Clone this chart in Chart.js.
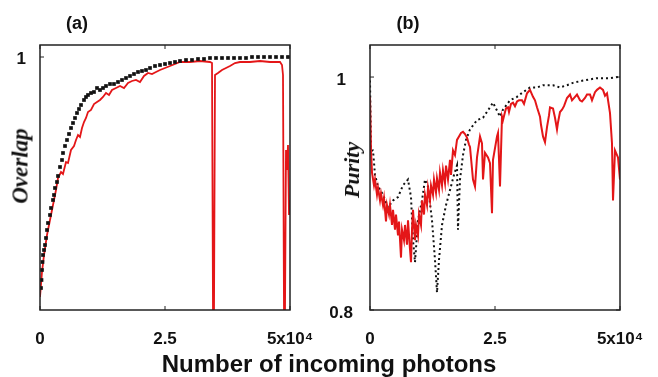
<!DOCTYPE html>
<html>
<head>
<meta charset="utf-8">
<script src="https://cdn.jsdelivr.net/npm/chart.js@4.4.1/dist/chart.umd.min.js"></script>
<style>
  body { margin: 0; width: 658px; height: 377px; background: #fff; overflow: hidden; position: relative;
         font-family: "Liberation Sans", Arial, sans-serif; }
  .box { position: absolute; top: 0; height: 377px; }
  .lbl { position: absolute; font-weight: bold; color: #111; white-space: nowrap; line-height: 1; }
  .ylab { font-family: "Liberation Serif", "Times New Roman", serif; font-style: italic;
          transform: translate(-50%, -50%) rotate(-90deg); }
</style>
</head>
<body>
<div class="box" style="left:0;width:330px"><canvas id="chartA" width="330" height="377"></canvas></div>
<div class="box" style="left:330px;width:328px"><canvas id="chartB" width="328" height="377"></canvas></div>

<div class="lbl" style="left:77px;top:23px;font-size:18px;transform:translate(-50%,-50%)">(a)</div>
<div class="lbl" style="left:408px;top:23px;font-size:18px;transform:translate(-50%,-50%)">(b)</div>
<div class="lbl ylab" style="left:20px;top:166px;font-size:23px">Overlap</div>
<div class="lbl ylab" style="left:352px;top:170px;font-size:22px">Purity</div>
<div class="lbl" style="left:329px;top:352px;font-size:24px;line-height:23px;transform:translateX(-50%)">Number of incoming photons</div>

<script>
// x axis: number of incoming photons
const xTickValues = [0, 25000, 50000];
const xTickLabels = ['0', '2.5', '5x10\u2074'];

// (a) overlap, black markers
const photonsOverlapBlack = [200,300,400,500,600,800,1000,1200,1400,1600,2000,2200,2600,2800,3000,3400,3600,4000,4400,4600,
  5000,5400,5800,6200,6600,7000,7400,7800,8200,8800,9200,9600,10200,10800,11400,12000,12600,13200,14000,14800,
  15600,16400,17200,18000,18800,19600,20400,21200,22000,23000,24000,25000,26000,27000,28000,29200,30400,31600,32800,34000,
  35200,36400,37600,38800,40000,41200,42400,43600,44800,46000,47200,48400,49600];
const overlapBlack = [0.538,0.554,0.574,0.590,0.604,0.614,0.624,0.638,0.654,0.668,0.684,0.698,0.714,0.724,0.738,0.750,0.762,0.780,0.794,0.808,
  0.822,0.834,0.846,0.858,0.868,0.878,0.888,0.896,0.904,0.914,0.920,0.924,0.928,0.930,0.938,0.934,0.938,0.942,0.946,0.946,
  0.950,0.954,0.958,0.962,0.966,0.970,0.972,0.974,0.978,0.982,0.984,0.986,0.988,0.990,0.992,0.994,0.994,0.996,0.996,0.998,
  0.998,0.998,0.998,0.998,0.998,0.998,1.000,1.000,1.000,1.000,1.000,1.000,1.000];

// (a) overlap, red line
const photonsOverlapRed = [0,400,800,1400,2000,2600,3200,3600,4200,4600,5200,5600,6200,6800,7200,7600,8000,8400,8800,9200,
  9600,10200,10800,11400,12000,12600,13200,13800,14400,15200,16000,16800,17600,18400,19200,20000,20800,21600,22400,23200,
  24000,25000,26000,27000,28000,30000,32000,34000,34400,34600,34800,35000,35600,36400,37200,38000,39000,40000,42000,44000,
  46000,48000,48400,48600,48800,49000,49200,49400,49600,49800,50000];
const overlapRed = [0.520,0.570,0.604,0.644,0.674,0.704,0.734,0.758,0.770,0.766,0.790,0.788,0.814,0.822,0.834,0.844,0.840,0.858,0.870,0.878,
  0.890,0.894,0.906,0.910,0.914,0.920,0.928,0.924,0.934,0.938,0.942,0.938,0.948,0.952,0.954,0.950,0.962,0.968,0.966,0.970,
  0.974,0.978,0.982,0.986,0.990,0.990,0.992,0.990,0.988,0.494,0.494,0.964,0.968,0.974,0.978,0.982,0.988,0.990,0.990,0.992,
  0.990,0.990,0.984,0.964,0.494,0.494,0.814,0.774,0.824,0.684,0.714];

// (b) purity, black dotted
const photonsPurityBlack = [0,200,600,1000,1600,2600,3600,4600,5600,6600,7600,8200,8600,9000,9600,10400,11000,11600,12400,13000,
  13400,13800,14400,15200,16000,16800,17400,17600,18000,18600,19200,20000,21400,22600,24000,24600,26000,26600,28000,29400,
  30600,32000,33400,34600,36600,38000,39400,40600,42600,45400,48000,49600];
const purityBlack = [0.997,0.937,0.937,0.916,0.906,0.899,0.888,0.894,0.897,0.907,0.912,0.897,0.860,0.841,0.877,0.894,0.912,0.906,0.877,0.843,
  0.815,0.843,0.873,0.890,0.903,0.916,0.924,0.869,0.912,0.933,0.946,0.955,0.963,0.965,0.974,0.978,0.966,0.972,0.980,0.983,
  0.987,0.991,0.991,0.993,0.993,0.991,0.993,0.995,0.997,0.999,0.999,1.000];

// (b) purity, red line
const photonsPurityRed = [0,200,400,800,1000,1400,1600,2000,2200,2600,2800,3200,3400,3800,4000,4400,4600,5000,5200,5600,
  5800,6200,6400,6800,7000,7400,7600,8000,8200,8400,8600,9000,9200,9600,9800,10200,10400,10800,11000,11400,
  11600,12000,12200,12600,12800,13200,13400,13800,14000,14400,14600,15000,15200,15600,16000,16200,16600,17000,17400,17800,
  18200,18600,19000,19400,19800,20000,20600,21000,21400,22000,22400,22600,23000,23600,24000,24400,24600,25400,25600,26000,
  26400,26600,27000,27200,27600,27800,28200,28600,29000,29400,29800,30400,30800,31400,32000,32600,33000,33400,34000,34200,
  34600,35000,35400,35800,36000,36600,37000,37400,37600,38000,38400,38800,39400,40000,40400,41000,41400,42000,42400,43000,
  43400,44000,44400,45000,45400,46000,46600,47000,47400,48000,48400,48600,49000,49600,50000];
const purityRed = [0.983,0.937,0.918,0.907,0.912,0.899,0.905,0.894,0.900,0.890,0.896,0.876,0.890,0.882,0.890,0.873,0.886,0.869,0.882,0.864,
  0.876,0.845,0.869,0.860,0.873,0.856,0.877,0.852,0.841,0.869,0.886,0.860,0.873,0.864,0.882,0.873,0.894,0.882,0.899,0.890,
  0.905,0.894,0.907,0.899,0.912,0.901,0.913,0.903,0.918,0.907,0.920,0.909,0.924,0.912,0.929,0.916,0.937,0.933,0.946,0.949,
  0.952,0.953,0.951,0.948,0.942,0.940,0.912,0.906,0.931,0.949,0.943,0.912,0.935,0.931,0.926,0.883,0.929,0.949,0.952,0.906,
  0.966,0.963,0.970,0.973,0.974,0.970,0.977,0.978,0.975,0.979,0.980,0.980,0.977,0.986,0.989,0.983,0.980,0.974,0.966,0.959,
  0.949,0.944,0.957,0.967,0.974,0.973,0.965,0.955,0.961,0.970,0.972,0.975,0.982,0.985,0.980,0.983,0.985,0.980,0.979,0.982,
  0.985,0.985,0.980,0.987,0.989,0.991,0.989,0.984,0.986,0.969,0.943,0.894,0.937,0.931,0.912];

const RED = 'rgb(228,22,24)';
const BLACK = '#111';
const tickFont = { family: '"Liberation Sans", Arial, sans-serif', size: 17, weight: 'bold' };

function pts(xs, ys) {
  return xs.map((x, i) => ({ x: x, y: ys[i] }));
}

// box round the plot area plus the small inward ticks
const framePlugin = {
  id: 'frame',
  afterDatasetsDraw(chart) {
    const ctx = chart.ctx, a = chart.chartArea, sx = chart.scales.x, sy = chart.scales.y;
    ctx.save();
    ctx.strokeStyle = '#222';
    ctx.lineWidth = 1.5;
    ctx.strokeRect(a.left, a.top, a.right - a.left, a.bottom - a.top);
    ctx.lineWidth = 1;
    ctx.beginPath();
    sx.ticks.forEach(t => {
      const p = sx.getPixelForValue(t.value);
      ctx.moveTo(p, a.bottom); ctx.lineTo(p, a.bottom - 4);
      ctx.moveTo(p, a.top); ctx.lineTo(p, a.top + 4);
    });
    sy.ticks.forEach(t => {
      const p = sy.getPixelForValue(t.value);
      ctx.moveTo(a.left, p); ctx.lineTo(a.left + 4, p);
      ctx.moveTo(a.right, p); ctx.lineTo(a.right - 4, p);
    });
    ctx.stroke();
    ctx.restore();
  }
};

function makeChart(id, datasets, yMin, yMax, yTicks, padRight, labelOffset, cross) {
  return new Chart(document.getElementById(id), {
    type: 'line',
    data: { datasets: datasets },
    options: {
      responsive: false,
      animation: false,
      events: [],
      layout: { padding: { top: 45, right: padRight, left: 0, bottom: 0 } },
      plugins: { legend: { display: false }, tooltip: { enabled: false } },
      scales: {
        x: {
          type: 'linear', min: 0, max: 50000,
          grid: { display: false }, border: { display: false },
          afterBuildTicks: s => { s.ticks = xTickValues.map(v => ({ value: v })); },
          afterFit: s => { s.height = 67; },
          ticks: { font: tickFont, color: BLACK, padding: 11, maxRotation: 0, autoSkip: false,
                   callback: (v, i) => xTickLabels[i] }
        },
        y: {
          type: 'linear', min: yMin, max: yMax,
          grid: { display: false }, border: { display: false },
          afterBuildTicks: s => { s.ticks = yTicks.map(v => ({ value: v })); },
          afterFit: s => { s.width = 40; },
          ticks: { font: tickFont, color: BLACK, padding: cross === 'center' ? 9 : 6, labelOffset: labelOffset,
                   crossAlign: cross, autoSkip: false, callback: v => String(v) }
        }
      }
    },
    plugins: [framePlugin]
  });
}

makeChart('chartA', [
  { data: pts(photonsOverlapRed, overlapRed), borderColor: RED, borderWidth: 1.8, pointRadius: 0, order: 1 },
  { data: pts(photonsOverlapBlack, overlapBlack), showLine: false, pointStyle: 'rect', pointRadius: 2.6,
    pointBackgroundColor: BLACK, pointBorderWidth: 0, order: 0 }
], 0.494, 1.024, [1], 40, 2, 'near');

makeChart('chartB', [
  { data: pts(photonsPurityBlack, purityBlack), borderColor: BLACK, borderWidth: 2, borderDash: [2, 3],
    pointRadius: 0, order: 1 },
  { data: pts(photonsPurityRed, purityRed), borderColor: RED, borderWidth: 2, pointRadius: 0, order: 0 }
], 0.8, 1.0275, [0.8, 1], 38, 3, 'center');
</script>
</body>
</html>
